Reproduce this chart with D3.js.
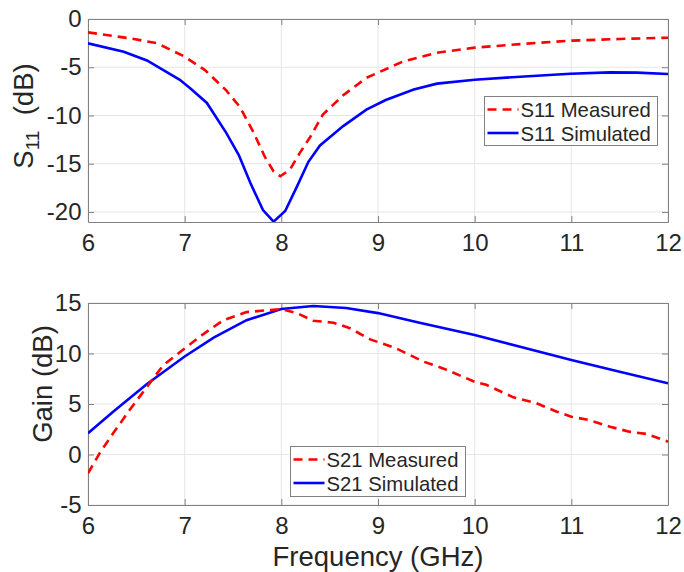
<!DOCTYPE html>
<html>
<head>
<meta charset="UTF-8">
<title>S11 and Gain</title>
<script src="https://cdn.jsdelivr.net/npm/d3@7"></script>
<style>
  body { margin: 0; background: #fff; }
  text { font-family: "Liberation Sans", Arial, sans-serif; fill: #262626; }
</style>
</head>
<body>
<script>
// frequency points (GHz)
var s11MeasFreq = [6, 6.43, 6.71, 7, 7.21, 7.43, 7.57, 7.71, 7.83, 7.92, 7.99, 8.09, 8.19, 8.3, 8.43, 8.64, 8.88, 9.26, 9.61, 10, 10.47, 10.99, 11.5, 12];
var s11Meas = [-1.38, -2.0, -2.5, -3.9, -5.3, -7.4, -9.1, -11.7, -14.3, -15.8, -16.3, -15.6, -13.9, -12.2, -9.9, -7.9, -6.1, -4.4, -3.5, -2.97, -2.6, -2.25, -2.07, -1.94];

var s11SimFreq = [6, 6.37, 6.61, 6.95, 7.06, 7.23, 7.43, 7.56, 7.68, 7.81, 7.92, 8.04, 8.16, 8.28, 8.4, 8.64, 8.88, 9.08, 9.37, 9.61, 10, 10.47, 10.99, 11.4, 11.68, 12];
var s11Sim = [-2.52, -3.4, -4.3, -6.3, -7.2, -8.7, -11.8, -14.1, -17.0, -19.8, -21.0, -19.9, -17.4, -14.8, -13.1, -11.1, -9.4, -8.4, -7.3, -6.7, -6.3, -5.98, -5.67, -5.53, -5.56, -5.7];

var s21MeasFreq = [6, 6.12, 6.26, 6.43, 6.61, 6.78, 7, 7.19, 7.4, 7.64, 8, 8.16, 8.33, 8.54, 8.71, 8.92, 9.19, 9.47, 9.68, 10, 10.12, 10.4, 10.64, 10.85, 11, 11.19, 11.4, 11.6, 11.78, 12];
var s21Meas = [-1.86, 0.12, 2.1, 4.4, 6.7, 8.86, 10.5, 11.9, 13.3, 14.1, 14.4, 14.0, 13.25, 13.05, 12.5, 11.4, 10.5, 9.2, 8.5, 7.2, 6.9, 5.66, 5.07, 4.24, 3.74, 3.4, 2.75, 2.26, 2.03, 1.27];

var s21SimFreq = [6, 6.26, 6.61, 7, 7.3, 7.64, 8, 8.33, 8.67, 9, 9.43, 10, 10.47, 11, 11.5, 12];
var s21Sim = [2.1, 4.24, 6.98, 9.7, 11.57, 13.3, 14.4, 14.7, 14.5, 14.0, 13.05, 11.83, 10.67, 9.36, 8.2, 7.05];

var xTicks = [6, 7, 8, 9, 10, 11, 12];
var s11Ticks = [0, -5, -10, -15, -20];
var gainTicks = [15, 10, 5, 0, -5];

var W = 684, H = 572;
var svg = d3.select("body").append("svg").attr("width", W).attr("height", H);

function tickText(d) { return d < 0 ? "-" + (-d) : String(d); }

function panel(opts) {
  var x = d3.scaleLinear().domain([6, 12]).range([88, 668]);
  var y = d3.scaleLinear().domain(opts.yDomain).range([opts.bottom, opts.top]);
  var g = svg.append("g");
  var clipId = "clip" + opts.id;
  svg.append("clipPath").attr("id", clipId).append("rect")
    .attr("x", 88).attr("y", opts.top).attr("width", 580).attr("height", opts.bottom - opts.top);

  // grid
  g.selectAll(".gx").data(xTicks).enter().append("line")
    .attr("x1", function (d) { return x(d); }).attr("x2", function (d) { return x(d); })
    .attr("y1", opts.top).attr("y2", opts.bottom)
    .attr("stroke", "#e6e6e6").attr("stroke-width", 1);
  g.selectAll(".gy").data(opts.yTicks).enter().append("line")
    .attr("x1", 88).attr("x2", 668)
    .attr("y1", function (d) { return y(d); }).attr("y2", function (d) { return y(d); })
    .attr("stroke", "#e6e6e6").attr("stroke-width", 1);

  // axes with inward ticks on all sides
  var ax = g.append("g").attr("class", "axes");
  ax.append("g").attr("transform", "translate(0," + opts.bottom + ")")
    .call(d3.axisBottom(x).tickValues(xTicks).tickSizeInner(-6).tickSizeOuter(0).tickPadding(12).tickFormat(tickText));
  ax.append("g").attr("transform", "translate(0," + opts.top + ")")
    .call(d3.axisTop(x).tickValues(xTicks).tickSizeInner(-6).tickSizeOuter(0).tickFormat(""));
  ax.append("g").attr("transform", "translate(88,0)")
    .call(d3.axisLeft(y).tickValues(opts.yTicks).tickSizeInner(-6).tickSizeOuter(0).tickPadding(6.5).tickFormat(tickText));
  ax.append("g").attr("transform", "translate(668,0)")
    .call(d3.axisRight(y).tickValues(opts.yTicks).tickSizeInner(-6).tickSizeOuter(0).tickFormat(""));
  ax.selectAll(".domain").attr("stroke", "#808080");
  ax.selectAll(".tick line").attr("stroke", "#808080");
  ax.selectAll("text").attr("font-size", 24).attr("fill", "#262626")
    .style("font-family", "'Liberation Sans', Arial, sans-serif");

  var line = d3.line().x(function (d) { return x(d[0]); }).y(function (d) { return y(d[1]); });
  var lines = g.append("g").attr("clip-path", "url(#" + clipId + ")");
  lines.append("path").datum(d3.zip(opts.simF, opts.sim))
    .attr("d", line).attr("fill", "none").attr("stroke", "#0000ff").attr("stroke-width", 2.6);
  lines.append("path").datum(d3.zip(opts.measF, opts.meas))
    .attr("d", line).attr("fill", "none").attr("stroke", "#ff0000").attr("stroke-width", 2.6)
    .attr("stroke-dasharray", "9,6");

  // legend
  var L = opts.legend;
  var lg = g.append("g");
  lg.append("rect").attr("x", L.x).attr("y", L.y).attr("width", L.w).attr("height", L.h)
    .attr("fill", "#fff").attr("stroke", "#808080").attr("stroke-width", 1);
  var items = [
    { name: opts.name + " Measured", color: "#ff0000", dash: "9,6" },
    { name: opts.name + " Simulated", color: "#0000ff", dash: null }
  ];
  items.forEach(function (it, i) {
    var cy = L.y + 13 + i * 23.5;
    lg.append("line").attr("x1", L.x + 3).attr("x2", L.x + 34).attr("y1", cy).attr("y2", cy)
      .attr("stroke", it.color).attr("stroke-width", 2.6).attr("stroke-dasharray", it.dash);
    lg.append("text").attr("x", L.x + 36).attr("y", cy + 7.5).attr("font-size", 20.3).text(it.name);
  });
  return g;
}

panel({
  id: 1, top: 19, bottom: 222, yDomain: [-21.04, 0], yTicks: s11Ticks, name: "S11",
  measF: s11MeasFreq, meas: s11Meas, simF: s11SimFreq, sim: s11Sim,
  legend: { x: 484.5, y: 96.5, w: 173, h: 49 }
});
panel({
  id: 2, top: 303, bottom: 505, yDomain: [-5, 15], yTicks: gainTicks, name: "S21",
  measF: s21MeasFreq, meas: s21Meas, simF: s21SimFreq, sim: s21Sim,
  legend: { x: 290.5, y: 446.5, w: 175, h: 50 }
});

// axis labels
var s11Label = svg.append("text").attr("transform", "translate(33,116) rotate(-90)")
  .attr("text-anchor", "middle").attr("font-size", 27.5);
s11Label.append("tspan").text("S");
s11Label.append("tspan").attr("font-size", 19).attr("dy", 6).text("11");
s11Label.append("tspan").attr("dy", -6).text("  (dB)").style("white-space", "pre");

svg.append("text").attr("transform", "translate(52,384) rotate(-90)")
  .attr("text-anchor", "middle").attr("font-size", 27.5).text("Gain (dB)");

svg.append("text").attr("x", 378).attr("y", 566).attr("text-anchor", "middle")
  .attr("font-size", 27.5).text("Frequency (GHz)");
</script>
</body>
</html>
